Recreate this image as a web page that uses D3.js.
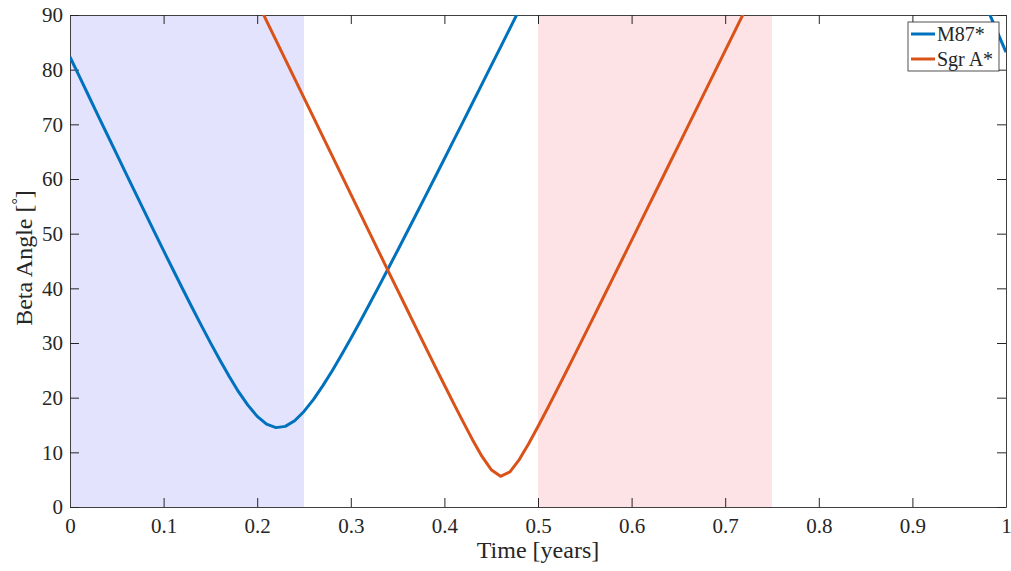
<!DOCTYPE html>
<html>
<head>
<meta charset="utf-8">
<script src="https://cdn.jsdelivr.net/npm/d3@7"></script>
<style>
  body { margin: 0; background: #fff; }
  svg text { font-family: "Liberation Serif", "Times New Roman", serif; fill: #262626; }
</style>
</head>
<body>
<div id="chart"></div>
<script>
// time grid (years)
var years = [
  0.00, 0.01, 0.02, 0.03, 0.04, 0.05, 0.06, 0.07, 0.08, 0.09,
  0.10, 0.11, 0.12, 0.13, 0.14, 0.15, 0.16, 0.17, 0.18, 0.19,
  0.20, 0.21, 0.22, 0.23, 0.24, 0.25, 0.26, 0.27, 0.28, 0.29,
  0.30, 0.31, 0.32, 0.33, 0.34, 0.35, 0.36, 0.37, 0.38, 0.39,
  0.40, 0.41, 0.42, 0.43, 0.44, 0.45, 0.46, 0.47, 0.48, 0.49,
  0.50, 0.51, 0.52, 0.53, 0.54, 0.55, 0.56, 0.57, 0.58, 0.59,
  0.60, 0.61, 0.62, 0.63, 0.64, 0.65, 0.66, 0.67, 0.68, 0.69,
  0.70, 0.71, 0.72, 0.73, 0.74, 0.75, 0.76, 0.77, 0.78, 0.79,
  0.80, 0.81, 0.82, 0.83, 0.84, 0.85, 0.86, 0.87, 0.88, 0.89,
  0.90, 0.91, 0.92, 0.93, 0.94, 0.95, 0.96, 0.97, 0.98, 0.99,
  1.00
];

// beta angle [deg], null where the curve is off the top of the plot
var m87 = [].concat(
  [82.33, 78.76, 75.18, 71.61, 68.05, 64.49, 60.94, 57.41, 53.89, 50.38,
   46.89, 43.44, 40.02, 36.63, 33.31, 30.06, 26.92, 23.91, 21.09, 18.63,
   16.58, 15.15, 14.52, 14.75, 15.78, 17.48, 19.64, 22.16, 24.89, 27.79,
   30.83, 33.95, 37.12, 40.36, 43.63, 46.93, 50.25, 53.60, 56.96, 60.33,
   63.71, 67.11, 70.50, 73.90, 77.32, 80.73, 84.13, 87.55, 90.97],
  Array(49).fill(null),
  [91.10, 87.20, 83.20]
);

var sgrA = [].concat(
  Array(20).fill(null),
  [92.46, 88.94, 85.41, 81.88, 78.36, 74.83, 71.31, 67.78, 64.27, 60.74,
   57.23, 53.70, 50.19, 46.68, 43.16, 39.66, 36.17, 32.67, 29.19, 25.73,
   22.31, 18.91, 15.58, 12.32, 9.30, 6.82, 5.61, 6.42, 8.67, 11.56,
   14.71, 17.97, 21.33, 24.70, 28.10, 31.54, 34.97, 38.41, 41.86, 45.32,
   48.78, 52.24, 55.71, 59.17, 62.65, 66.12, 69.59, 73.07, 76.53, 80.02,
   83.49, 86.96, 90.44],
  Array(28).fill(null)
);

var seriesNames  = ["M87*", "Sgr A*"];
var seriesColors = ["#0072BD", "#D95319"];

// shaded time windows
var bandStart = [0, 0.5];
var bandEnd   = [0.25, 0.75];
var bandColor = ["#e3e3fd", "#fde3e5"];

var xTicks = [0, 0.1, 0.2, 0.3, 0.4, 0.5, 0.6, 0.7, 0.8, 0.9, 1];
var yTicks = [0, 10, 20, 30, 40, 50, 60, 70, 80, 90];

// chart config
var W = 1011, H = 571;
var margin = {top: 15, right: 5, bottom: 64, left: 70};
var width  = W - margin.left - margin.right,
    height = H - margin.top - margin.bottom;
var serif = "'Liberation Serif', 'Times New Roman', serif";

var xScale = d3.scaleLinear().domain([0, 1]).range([0, width]);
var yScale = d3.scaleLinear().domain([0, 90]).range([height, 0]);

var svg = d3.select("#chart").append("svg")
    .attr("width", W)
    .attr("height", H);

svg.append("defs").append("clipPath")
    .attr("id", "plotClip")
  .append("rect")
    .attr("width", width)
    .attr("height", height);

var g = svg.append("g")
    .attr("transform", "translate(" + margin.left + "," + margin.top + ")");

// shaded bands
g.selectAll("rect.band")
  .data(bandStart)
  .enter().append("rect")
    .attr("class", "band")
    .attr("x", function(d) { return xScale(d); })
    .attr("y", 0)
    .attr("width", function(d, i) { return xScale(bandEnd[i]) - xScale(d); })
    .attr("height", height)
    .attr("fill", function(d, i) { return bandColor[i]; });

// axes (MATLAB style: ticks inside, box on)
var tickLen = 9;
var xAxisB = d3.axisBottom(xScale).tickValues(xTicks).tickSizeInner(-tickLen).tickSizeOuter(0)
    .tickPadding(11).tickFormat(d3.format("~g"));
var xAxisT = d3.axisTop(xScale).tickValues(xTicks).tickSizeInner(-tickLen).tickSizeOuter(0).tickFormat("");
var yAxisL = d3.axisLeft(yScale).tickValues(yTicks).tickSizeInner(-tickLen).tickSizeOuter(0)
    .tickPadding(7);
var yAxisR = d3.axisRight(yScale).tickValues(yTicks).tickSizeInner(-tickLen).tickSizeOuter(0).tickFormat("");

function styleAxis(sel) {
  sel.attr("font-family", null);
  sel.select(".domain").attr("stroke", "#404040").attr("stroke-width", 1);
  sel.selectAll(".tick line").attr("stroke", "#262626").attr("stroke-width", 1);
  sel.selectAll(".tick text")
    .style("font-family", serif)
    .style("font-size", "21px")
    .style("fill", "#262626");
}

g.append("g").attr("transform", "translate(0," + height + ")").call(xAxisB).call(styleAxis);
g.append("g").call(xAxisT).call(styleAxis);
g.append("g").call(yAxisL).call(styleAxis);
g.append("g").attr("transform", "translate(" + width + ",0)").call(yAxisR).call(styleAxis);

// lines
var line = d3.line()
    .defined(function(d) { return d[1] != null; })
    .x(function(d) { return xScale(d[0]); })
    .y(function(d) { return yScale(d[1]); });

var allSeries = [m87, sgrA];
g.append("g")
    .attr("clip-path", "url(#plotClip)")
  .selectAll("path.series")
  .data(allSeries)
  .enter().append("path")
    .attr("class", "series")
    .attr("fill", "none")
    .attr("stroke", function(d, i) { return seriesColors[i]; })
    .attr("stroke-width", 3)
    .attr("stroke-linejoin", "round")
    .attr("d", function(vals) {
      return line(years.map(function(t, j) { return [t, vals[j]]; }));
    });

// axis labels
svg.append("text")
    .attr("x", margin.left + width / 2)
    .attr("y", 558)
    .attr("text-anchor", "middle")
    .attr("font-size", 24)
    .text("Time [years]");

var yLab = svg.append("text")
    .attr("transform", "translate(32," + (margin.top + height / 2 - 3) + ") rotate(-90)")
    .attr("text-anchor", "middle")
    .attr("font-size", 24);
yLab.append("tspan").text("Beta Angle [");
yLab.append("tspan").attr("font-size", 16).attr("dy", -9).text("\u00B0");
yLab.append("tspan").attr("dy", 9).text("]");

// legend
var legend = svg.append("g").attr("transform", "translate(908,22)");
legend.append("rect")
    .attr("width", 91)
    .attr("height", 49)
    .attr("fill", "#fff")
    .attr("stroke", "#262626")
    .attr("stroke-width", 0.8);

var legendItems = legend.selectAll("g.item")
  .data(seriesNames)
  .enter().append("g")
    .attr("class", "item")
    .attr("transform", function(d, i) { return "translate(0," + (12 + i * 25) + ")"; });

legendItems.append("line")
    .attr("x1", 3).attr("x2", 27)
    .attr("stroke", function(d, i) { return seriesColors[i]; })
    .attr("stroke-width", 3);

legendItems.append("text")
    .attr("x", 29)
    .attr("y", 7)
    .attr("font-size", 20)
    .text(function(d) { return d; });
</script>
</body>
</html>
